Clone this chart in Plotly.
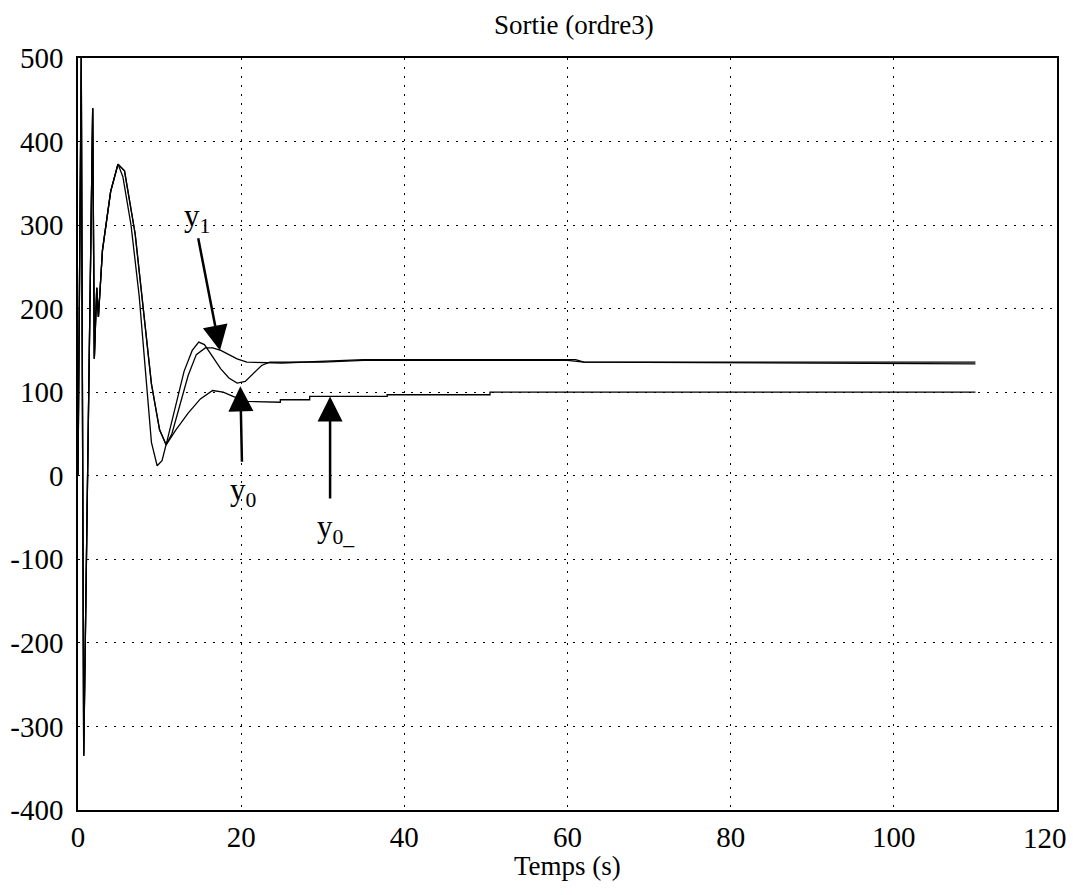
import plotly.graph_objects as go

# ---- data ----
# common initial transient (all three outputs overlap)
t_start = [0.0, 0.4, 0.7, 1.8, 2.0, 2.3, 2.5, 3.0, 4.0, 4.9]
v_start = [0, 500, -335, 440, 140, 225, 190, 270, 340, 373]

# y0
t_y0 = [5.5, 6.5, 7.5, 8.3, 9.0, 9.7, 10.3, 11.0, 12.0, 13.0, 14.0, 14.8, 15.5, 16.5,
        17.5, 18.5, 19.5, 20.5, 21.5, 22.5, 23.5, 30.0, 35.0, 60.0, 62.0, 110.0]
v_y0 = [358, 300, 215, 120, 40, 12, 18, 45, 85, 125, 150, 160, 157, 143,
        128, 117, 111, 113, 122, 132, 136, 136, 138, 138, 136, 134]

# y1
t_y1 = [5.7, 7.0, 8.0, 9.0, 10.0, 10.8, 11.5, 12.5, 13.5, 14.5, 15.6, 16.5, 17.5,
        18.5, 19.5, 20.7, 25.0, 35.0, 61.0, 62.0, 110.0]
v_y1 = [365, 290, 200, 110, 55, 37, 50, 85, 120, 145, 153, 153, 150,
        145, 140, 136, 135, 139, 139, 136, 136]

# y0_
t_y0b = [5.7, 7.0, 8.0, 9.0, 10.0, 10.8, 12.0, 13.5, 15.0, 15.8, 16.5, 17.8, 19.0,
         20.7, 24.8, 24.8, 28.4, 28.4, 37.9, 37.9, 50.5, 50.5, 110.0]
v_y0b = [365, 290, 200, 110, 55, 37, 55, 75, 92, 97, 102, 100, 95,
         89, 88, 91, 91, 95, 95, 97, 97, 100, 100]

x_ticks = [0, 20, 40, 60, 80, 100, 120]
y_ticks = [-400, -300, -200, -100, 0, 100, 200, 300, 400, 500]

FONT = "Liberation Serif"
TICK_SIZE = 29

fig = go.Figure()
for tt, vv, name in [(t_y0, v_y0, "y0"), (t_y1, v_y1, "y1"), (t_y0b, v_y0b, "y0_")]:
    fig.add_trace(go.Scatter(
        x=t_start + tt, y=v_start + vv, mode="lines", name=name,
        line=dict(color="black", width=1.3), showlegend=False))

axis_common = dict(
    showline=True, mirror=True, linecolor="black", linewidth=1.5,
    showgrid=True, gridcolor="black", gridwidth=1, griddash="2px,7px",
    zeroline=False, ticks="", automargin=False,
    tickfont=dict(family=FONT, size=TICK_SIZE, color="black"),
)
# last x label is drawn as an annotation so it stays inside the page
fig.update_xaxes(range=[0, 120], tickvals=x_ticks,
                 ticktext=[str(v) for v in x_ticks[:-1]] + [""],
                 ticklabelstandoff=0,
                 **axis_common)
fig.update_yaxes(range=[-400, 500], tickvals=y_ticks,
                 ticktext=[str(v) for v in y_ticks],
                 ticklabelstandoff=7, **axis_common)
fig.add_annotation(x=1, y=0, xref="paper", yref="paper", text=str(x_ticks[-1]),
                   showarrow=False, xanchor="right", yanchor="middle",
                   xshift=12, yshift=-28,
                   font=dict(family=FONT, size=TICK_SIZE, color="black"))

arrows = [
    # (tail x, tail y, tip x, tip y)
    (14.7, 286, 17.4, 150),
    (20.1, 15, 19.9, 107),
    (30.9, -29, 30.9, 95),
]
for ax_, ay_, x_, y_ in arrows:
    fig.add_annotation(x=x_, y=y_, ax=ax_, ay=ay_, xref="x", yref="y", axref="x", ayref="y",
                       text="", showarrow=True, arrowhead=2, arrowsize=2.0, arrowwidth=2.5,
                       arrowcolor="black", standoff=0)

labels = [(14.6, 308, "y<sub>1</sub>"), (20.3, -20, "y<sub>0</sub>"), (31.6, -64, "y<sub>0_</sub>")]
for lx, ly, txt in labels:
    fig.add_annotation(x=lx, y=ly, xref="x", yref="y", text=txt, showarrow=False,
                       font=dict(family=FONT, size=31, color="black"))

# x-axis title
fig.add_annotation(x=0.5, y=-0.074, xref="paper", yref="paper", text="Temps (s)",
                   showarrow=False, xanchor="center", yanchor="middle",
                   font=dict(family=FONT, size=27, color="black"))
# chart title
fig.add_annotation(x=0.507, y=1.0665, xref="paper", yref="paper", text="Sortie (ordre3)",
                   showarrow=False, xanchor="center", yanchor="top",
                   font=dict(family=FONT, size=27, color="black"))

fig.update_layout(
    width=1061, height=879,
    paper_bgcolor="white", plot_bgcolor="white",
    margin=dict(l=70, r=12, t=50, b=77),
)

fig.write_html("out.html")
